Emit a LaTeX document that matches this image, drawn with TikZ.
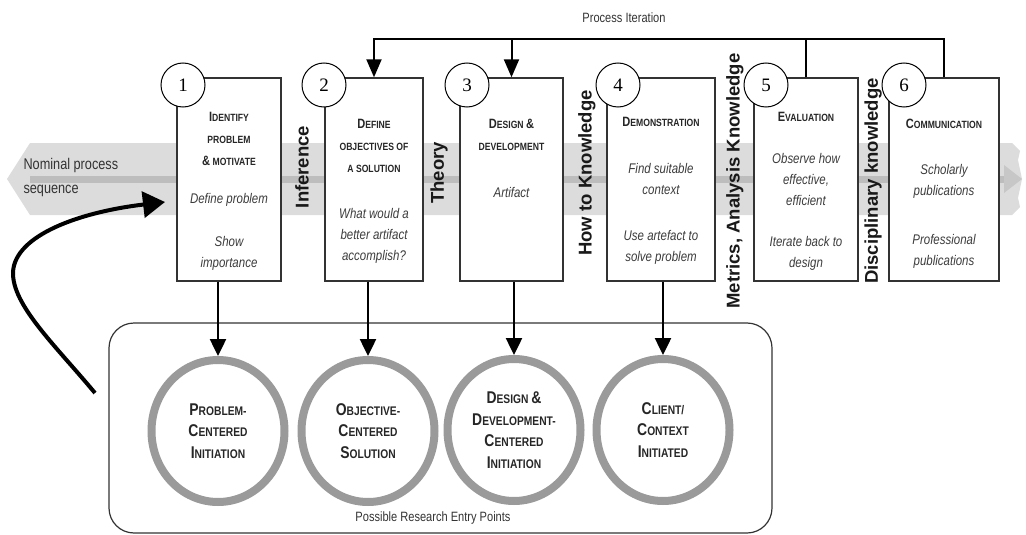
\documentclass[tikz,border=0pt]{standalone}
\usepackage{fontspec}
\setmainfont{Liberation Sans}
\newfontfamily\nar{Liberation Sans}[FakeStretch=0.82]
\newfontfamily\numfont{Liberation Serif}
\usetikzlibrary{arrows.meta,shapes.geometric}
\definecolor{bandlight}{HTML}{DCDCDC}
\definecolor{banddark}{HTML}{BDBDBD}
\definecolor{ringgray}{HTML}{9A9A9A}
\definecolor{txtgray}{HTML}{3C3C3C}
\definecolor{edge}{HTML}{333333}
\newcommand\Ba[1]{{\fontsize{13.5}{13.5}\selectfont #1}}
\newcommand\Bb[1]{{\fontsize{17}{17}\selectfont #1}}
\begin{document}
\begin{tikzpicture}[x=1pt,y=-1pt,
 stepbox/.style={draw=edge, line width=1.4pt, fill=white, inner sep=0pt},
 numc/.style={circle, draw=black, line width=1pt, fill=white, minimum size=44pt, inner sep=0pt, font=\numfont\fontsize{19}{19}\selectfont},
 ttl/.style={align=center, font=\nar\bfseries\fontsize{10.5}{22}\selectfont, text=black!85},
 itx/.style={align=center, font=\nar\itshape\fontsize{14}{21}\selectfont, text=txtgray},
 vlab/.style={rotate=90, font=\bfseries\fontsize{18.5}{18.5}\selectfont, text=black!90},
 entry/.style={ellipse, draw=ringgray, line width=8pt, minimum width=133pt, minimum height=142pt, inner sep=0pt, align=center, font=\nar\bfseries\fontsize{12.5}{21.5}\selectfont, text=black!85},
 down/.style={-{Triangle[length=17pt,width=16pt]}, line width=2.5pt},
 iter/.style={line width=2pt},
 iterarrow/.style={-{Triangle[length=18pt,width=15pt]}, line width=2pt},
 small/.style={font=\nar\fontsize{13.5}{13.5}\selectfont, text=black!80}
]
\useasboundingbox (0,0) rectangle (1026,535);

% nominal process band
\fill[bandlight] (7,179) -- (30,143) -- (1012,143) -- (1020,151) -- (1018,160) -- (1022,179) -- (1018,198) -- (1020,207) -- (1012,215) -- (30,215) -- cycle;
\fill[banddark] (30,176) rectangle (1004,183);
\fill[banddark!85] (1004,165) -- (1022,179) -- (1004,193) -- cycle;
\node[anchor=west, align=left, font=\nar\fontsize{15.5}{24}\selectfont, text=black!80] (nom) at (20,177) {Nominal process\\sequence};

% curved entry arrow
\coordinate (cs) at (95,393);
\coordinate (ct) at (165,202);
\draw[line width=4pt, -{Triangle[length=22pt,width=26pt]}] (cs) .. controls (55,345) and (12,305) .. (13,272) .. controls (15,235) and (80,212) .. (ct);

% activity boxes
\node[stepbox, minimum width=104pt, minimum height=203pt] (b1) at (229,179.5) {};
\node[stepbox, minimum width=98pt, minimum height=203pt] (b2) at (374,179.5) {};
\node[stepbox, minimum width=103pt, minimum height=203pt] (b3) at (511.5,179.5) {};
\node[stepbox, minimum width=108pt, minimum height=203pt] (b4) at (661,179.5) {};
\node[stepbox, minimum width=104pt, minimum height=203pt] (b5) at (806,179.5) {};
\node[stepbox, minimum width=110pt, minimum height=203pt] (b6) at (944,179.5) {};

% number circles
\node[numc] (n1) at (183,85) {1};
\node[numc] (n2) at (324,85) {2};
\node[numc] (n3) at (467,85) {3};
\node[numc] (n4) at (618,85) {4};
\node[numc] (n5) at (766,85) {5};
\node[numc] (n6) at (904,85) {6};

% box texts
\node[ttl] (t1) at (229,139) {\Ba{I}DENTIFY\\PROBLEM\\\Ba{\&} MOTIVATE};
\node[itx] (d1a) at (229,200) {Define problem};
\node[itx] (d1b) at (229,253) {Show\\importance};

\node[ttl] (t2) at (374,146) {\Ba{D}EFINE\\OBJECTIVES OF\\A SOLUTION};
\node[itx] (d2) at (374,236) {What would a\\better artifact\\accomplish?};

\node[ttl] (t3) at (511.5,135) {\Ba{D}ESIGN \Ba{\&}\\DEVELOPMENT};
\node[itx] (d3) at (511.5,192) {Artifact};

\node[ttl] (t4) at (661,122) {\Ba{D}EMONSTRATION};
\node[itx] (d4a) at (661,179) {Find suitable\\context};
\node[itx] (d4b) at (661,247.5) {Use artefact to\\solve problem};

\node[ttl] (t5) at (806,117) {\Ba{E}VALUATION};
\node[itx] (d5a) at (806,179) {Observe how\\effective,\\efficient};
\node[itx] (d5b) at (806,253.5) {Iterate back to\\design};

\node[ttl] (t6) at (944,124) {\Ba{C}OMMUNICATION};
\node[itx] (d6a) at (944,181.5) {Scholarly\\publications};
\node[itx] (d6b) at (944,251) {Professional\\publications};

% knowledge labels
\node[vlab] (l1) at (302,167) {Inference};
\node[vlab] (l2) at (439,173) {Theory};
\node[vlab] (l3) at (587,173) {How to Knowledge};
\node[vlab] (l4) at (735,181) {Metrics, Analysis Knowledge};
\node[vlab] (l5) at (873,181) {Disciplinary knowledge};

% process iteration
\coordinate (itline) at (0,39);
\node[small] (pi) at (624,18) {Process Iteration};
\draw[iterarrow] (b6.north) -- (b6.north |- itline) -- (b2.north |- itline) -- (b2.north);
\draw[iter] (b5.north) -- (b5.north |- itline);
\draw[iterarrow] (b3.north |- itline) -- (b3.north);

% entry points
\node[draw=edge, line width=1.2pt, rounded corners=25pt, minimum width=663pt, minimum height=210pt, inner sep=0pt] (pool) at (440.5,428) {};
\node[small] (pr) at (433,518) {Possible Research Entry Points};

\node[entry] (e1) at (218,431) {\Bb{P}ROBLEM-\\\Bb{C}ENTERED\\\Bb{I}NITIATION};
\node[entry] (e2) at (368,431) {\Bb{O}BJECTIVE-\\\Bb{C}ENTERED\\\Bb{S}OLUTION};
\node[entry] (e3) at (514,430) {\Bb{D}ESIGN \Bb{\&}\\\Bb{D}EVELOPMENT-\\\Bb{C}ENTERED\\\Bb{I}NITIATION};
\node[entry] (e4) at (663,430) {\Bb{C}LIENT/\\\Bb{C}ONTEXT\\\Bb{I}NITIATED};

\draw[down] (b1.south -| e1.north) -- (e1.north);
\draw[down] (b2.south -| e2.north) -- (e2.north);
\draw[down] (b3.south -| e3.north) -- (e3.north);
\draw[down] (b4.south -| e4.north) -- (e4.north);
\end{tikzpicture}
\end{document}
